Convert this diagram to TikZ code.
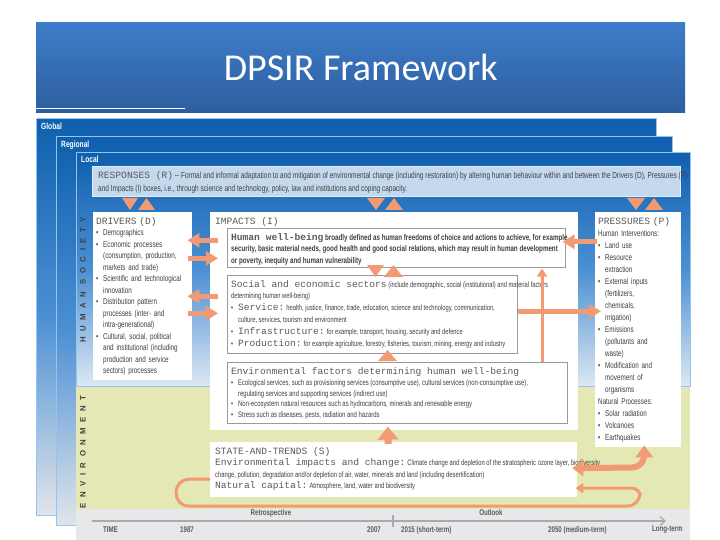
\documentclass[tikz,border=0pt]{standalone}
\usepackage{fontspec}
\setmainfont{Liberation Sans}
\newfontfamily\condfont[FakeStretch=0.74]{Liberation Sans}
\newfontfamily\monofont{Liberation Mono}
\newfontfamily\titlefont{Carlito}
\newfontfamily\spacedfont[LetterSpace=70]{Liberation Sans}
\usetikzlibrary{calc,positioning,arrows.meta}

\definecolor{titletop}{HTML}{3E7DCA}
\definecolor{titlebot}{HTML}{2D5F9F}
\definecolor{panelblue}{HTML}{0E5FAE}
\definecolor{panelmid}{HTML}{4C90D3}
\definecolor{paneledge}{HTML}{93C5EE}
\definecolor{panelgrey}{HTML}{E2E5EA}
\definecolor{skylight}{HTML}{DDE8F4}
\definecolor{envgreen}{HTML}{E4E8B4}
\definecolor{respblue}{HTML}{C5D9EE}
\definecolor{respedge}{HTML}{E3EDF8}
\definecolor{arrowor}{HTML}{F19A73}
\definecolor{timegrey}{HTML}{E7E8EA}
\definecolor{timeline}{HTML}{A9AAAD}
\definecolor{txtgrey}{HTML}{3F3F3F}
\definecolor{headgrey}{HTML}{5A5A5A}
\definecolor{boxgrey}{HTML}{9A9A9A}

\tikzset{
  layer/.style={draw=paneledge, line width=0.8pt, anchor=north west, inner sep=0pt},
  layerlabel/.style={inner sep=0pt, text=white, font=\condfont\bfseries\fontsize{9}{10}\selectfont},
  sidelabel/.style={inner sep=0pt, rotate=90, text=txtgrey, font=\spacedfont\bfseries\fontsize{7.8}{8}\selectfont},
  wbox/.style={fill=white, anchor=north west, inner sep=0pt},
  ibox/.style={fill=white, draw=boxgrey, line width=0.6pt, anchor=north west, inner sep=0pt},
  txt/.style={inner sep=0pt, align=left, text=txtgrey, font=\condfont\fontsize{8.5}{11.5}\selectfont},
  flow/.style={draw=arrowor, line width=5pt, -{Triangle[width=14pt,length=12pt]}},
  loopflow/.style={draw=arrowor, line width=3pt, -{Triangle[width=10pt,length=8pt]}},
  tri/.style={fill=arrowor},
  tlabel/.style={inner sep=0pt, text=headgrey, font=\condfont\bfseries\fontsize{8.3}{9}\selectfont},
}
\newcommand{\mono}[1]{{\monofont\fontsize{9.6}{11}\selectfont\color{headgrey}#1}}
\newcommand{\bul}{\makebox[7pt][l]{\textbullet}}
\newcommand{\indnt}{\hspace*{7pt}}

\begin{document}
\begin{tikzpicture}[x=1pt, y=-1pt]
    \useasboundingbox[fill=white] (0,0) rectangle (720,540);

    % Title
    \node[anchor=north west, minimum width=649pt, minimum height=90pt, inner sep=0pt,
          top color=titletop, bottom color=titlebot, text=white,
          font=\titlefont\fontsize{38}{40}\selectfont] (title) at (36,22) {DPSIR Framework};
    \draw[white, line width=1pt] ($(title.south west)+(0,-4)$) -- ($(title.south west)+(149,-4)$);

    % Layers
    \node[layer, minimum width=620pt, minimum height=397pt,
          top color=panelblue, bottom color=panelgrey, middle color=panelmid] (global) at (36,118) {};
    \node[layerlabel, below right=5pt and 5pt of global.north west] (globallbl) {Global};
    \node[layer, minimum width=616pt, minimum height=389pt,
          top color=panelblue, bottom color=panelgrey, middle color=panelmid] (regional) at (56,136) {};
    \node[layerlabel, below right=5pt and 5pt of regional.north west] (regionallbl) {Regional};
    \node[layer, minimum width=614pt, minimum height=234pt,
          top color=panelblue, bottom color=skylight, middle color=panelmid] (local) at (76,152) {};
    \node[layerlabel, below right=4pt and 5pt of local.north west] (locallbl) {Local};
    \node[wbox, fill=envgreen, minimum width=614pt, minimum height=122pt] (envband) at (local.south west) {};
    \node[wbox, fill=timegrey, minimum width=614pt, minimum height=32pt] (timeband) at (envband.south west) {};

    \node[sidelabel] (humanlbl) at (83,280) {HUMAN SOCIETY};
    \node[sidelabel] (envlbl)   at (83,452) {ENVIRONMENT};

    % Responses
    \node[wbox, fill=respblue, draw=respedge, line width=0.6pt, minimum width=588pt, minimum height=30pt] (resp) at (92,166) {};
    \node[txt, font=\condfont\fontsize{8.8}{13}\selectfont, below right=5pt and 6pt of resp.north west] (resptext)
        {\mono{RESPONSES (R)} -- Formal and informal adaptation to and mitigation of environmental change (including restoration) by altering human behaviour within and between the Drivers (D), Pressures (P)\\
         and Impacts (I) boxes, i.e., through science and technology, policy, law and institutions and coping capacity.};

    % Drivers
    \node[wbox, txt, text width=93pt, inner xsep=3pt, minimum height=168pt] (drv) at (93,212)
        {\mono{DRIVERS (D)}\\
         \bul Demographics\\
         \bul Economic processes\\
         \indnt(consumption, production,\\
         \indnt markets and trade)\\
         \bul Scientific and technological\\
         \indnt innovation\\
         \bul Distribution pattern\\
         \indnt processes (inter- and\\
         \indnt intra-generational)\\
         \bul Cultural, social, political\\
         \indnt and institutional (including\\
         \indnt production and service\\
         \indnt sectors) processes};

    % Pressures
    \node[wbox, txt, font=\condfont\fontsize{8.5}{12}\selectfont, text width=80pt, inner xsep=3pt, minimum height=235pt] (prs) at (595,212)
        {\mono{PRESSURES (P)}\\
         Human Interventions:\\
         \bul Land use\\
         \bul Resource\\
         \indnt extraction\\
         \bul External inputs\\
         \indnt(fertilizers,\\
         \indnt chemicals,\\
         \indnt irrigation)\\
         \bul Emissions\\
         \indnt(pollutants and\\
         \indnt waste)\\
         \bul Modification and\\
         \indnt movement of\\
         \indnt organisms\\
         Natural Processes:\\
         \bul Solar radiation\\
         \bul Volcanoes\\
         \bul Earthquakes};

    % Impacts
    \node[wbox, minimum width=368pt, minimum height=218pt] (imp) at (210,212) {};
    \node[txt, below right=5pt and 5pt of imp.north west] (implbl) {\mono{IMPACTS (I)}};

    \node[ibox, minimum width=338pt, minimum height=39pt] (hwb) at (227,228) {};
    \node[txt, font=\condfont\bfseries\fontsize{8.4}{11.5}\selectfont, below right=5pt and 4pt of hwb.north west] (hwbtext)
        {\mono{Human well-being} broadly defined as human freedoms of choice and actions to achieve, for example,\\
         security, basic material needs, good health and good social relations, which may result in human development\\
         or poverty, inequity and human vulnerability};

    \node[ibox, minimum width=290pt, minimum height=78pt] (soc) at (227,275) {};
    \node[txt, font=\condfont\fontsize{7.8}{11.8}\selectfont, below right=5pt and 4pt of soc.north west] (soctext)
        {\mono{Social and economic sectors} (include demographic, social (institutional) and material factors\\
         determining human well-being)\\
         \bul\mono{Service:} health, justice, finance, trade, education, science and technology, communication,\\
         \indnt culture, services, tourism and environment\\
         \bul\mono{Infrastructure:} for example, transport, housing, security and defence\\
         \bul\mono{Production:} for example agriculture, forestry, fisheries, tourism, mining, energy and industry};

    \node[ibox, minimum width=340pt, minimum height=61pt] (env) at (227,362) {};
    \node[txt, font=\condfont\fontsize{8}{10.5}\selectfont, below right=5pt and 4pt of env.north west] (envtext)
        {\mono{Environmental factors determining human well-being}\\[1pt]
         \bul Ecological services, such as provisioning services (consumptive use), cultural services (non-consumptive use),\\
         \indnt regulating services and supporting services (indirect use)\\
         \bul Non-ecosystem natural resources such as hydrocarbons, minerals and renewable energy\\
         \bul Stress such as diseases, pests, radiation and hazards};

    % State and trends
    \node[wbox, minimum width=367pt, minimum height=55pt] (sta) at (210,442) {};
    \node[txt, font=\condfont\fontsize{7.9}{11.5}\selectfont, below right=5pt and 5pt of sta.north west] (statext)
        {\mono{STATE-AND-TRENDS (S)}\\
         \mono{Environmental impacts and change:} Climate change and depletion of the stratospheric ozone layer, biodiversity\\
         change, pollution, degradation and/or depletion of air, water, minerals and land (including desertification)\\
         \mono{Natural capital:} Atmosphere, land, water and biodiversity};

    % Triangles
    \fill[tri] (122,198) -- (138,198) -- (130,210) -- cycle;
    \fill[tri] (138,210) -- (155,210) -- (146.5,198) -- cycle;
    \fill[tri] (367,198) -- (385,198) -- (376,210) -- cycle;
    \fill[tri] (385,210) -- (403,210) -- (394,198) -- cycle;
    \fill[tri] (627,198) -- (645,198) -- (636,210) -- cycle;
    \fill[tri] (645,210) -- (663,210) -- (654,198) -- cycle;
    \fill[tri] (367,265) -- (384,265) -- (375.5,277) -- cycle;
    \fill[tri] (384,277) -- (403,277) -- (393.5,265) -- cycle;
    \fill[tri] (378,361) -- (397,361) -- (387.5,350) -- cycle;

    % Paths
    \draw[flow] ($(imp.west |- hwb.center)+(8,-7.5)$) -- ($(drv.east |- hwb.center)+(-5,-7.5)$);
    \draw[flow] ($(drv.east |- hwb.center)+(-4,10.5)$) -- ($(imp.west |- hwb.center)+(8,10.5)$);
    \draw[flow] ($(imp.west |- soc.center)+(8,-18)$) -- ($(drv.east |- soc.center)+(-5,-18)$);
    \draw[flow] ($(drv.east |- soc.center)+(-4,-1)$) -- ($(imp.west |- soc.center)+(8,-1)$);
    \draw[flow] ($(prs.west |- hwb.center)+(2,-6)$) -- ($(hwb.east)+(-3,-6)$);
    \draw[loopflow] ($(env.north west)+(315,0)$) -- ($(hwb.south west)+(315,1)$);
    \draw[flow] ($(soc.east)+(0,-3)$) -- ($(prs.west |- soc.east)+(6,-3)$);
    \draw[flow, line width=7pt, -{Triangle[width=20pt,length=13pt]}] ($(sta.north)+(-5.5,2)$) -- ($(env.south)+(-9.5,3)$);
    \draw[flow, line width=6pt, rounded corners=12pt,
          {Triangle[width=16pt,length=11pt]}-{Triangle[width=17pt,length=12pt]}]
          ($(sta.east)+(-5,-1.5)$) -- ($(prs.south)+(6,20)$) -- ($(prs.south)+(6,-2)$);
    \draw[loopflow, rounded corners=13pt] ($(sta.west)+(0,9.5)$) -- ++(-34,0) -- ++(0,27) -- ++(464,0)
          [rounded corners=8pt] -- ++(0,-18) -- ($(sta.east)+(-2,18.5)$);

    % Time line
    \coordinate (tstart) at (92,521);
    \coordinate (tend)   at (666,521);
    \coordinate (tnow)   at (393,521);
    \draw[timeline, line width=1.3pt, -{Straight Barb[length=5pt,width=9pt]}] (tstart) -- (tend);
    \draw[timeline, line width=1.3pt] ([yshift=6pt]tnow) -- ([yshift=-6pt]tnow);
    \node[tlabel] (retro)   at (271,513) {Retrospective};
    \node[tlabel] (outlook) at (491,513) {Outlook};
    \node[tlabel, anchor=west] (time)  at (103,530) {TIME};
    \node[tlabel, anchor=west] (y1987) at (180,530) {1987};
    \node[tlabel, anchor=west] (y2007) at (367,530) {2007};
    \node[tlabel, anchor=west] (y2015) at (401,530) {2015 (short-term)};
    \node[tlabel, anchor=west] (y2050) at (548,530) {2050 (medium-term)};
    \node[tlabel, anchor=west] (ylong) at (652,530) {Long-term};
\end{tikzpicture}
\end{document}
